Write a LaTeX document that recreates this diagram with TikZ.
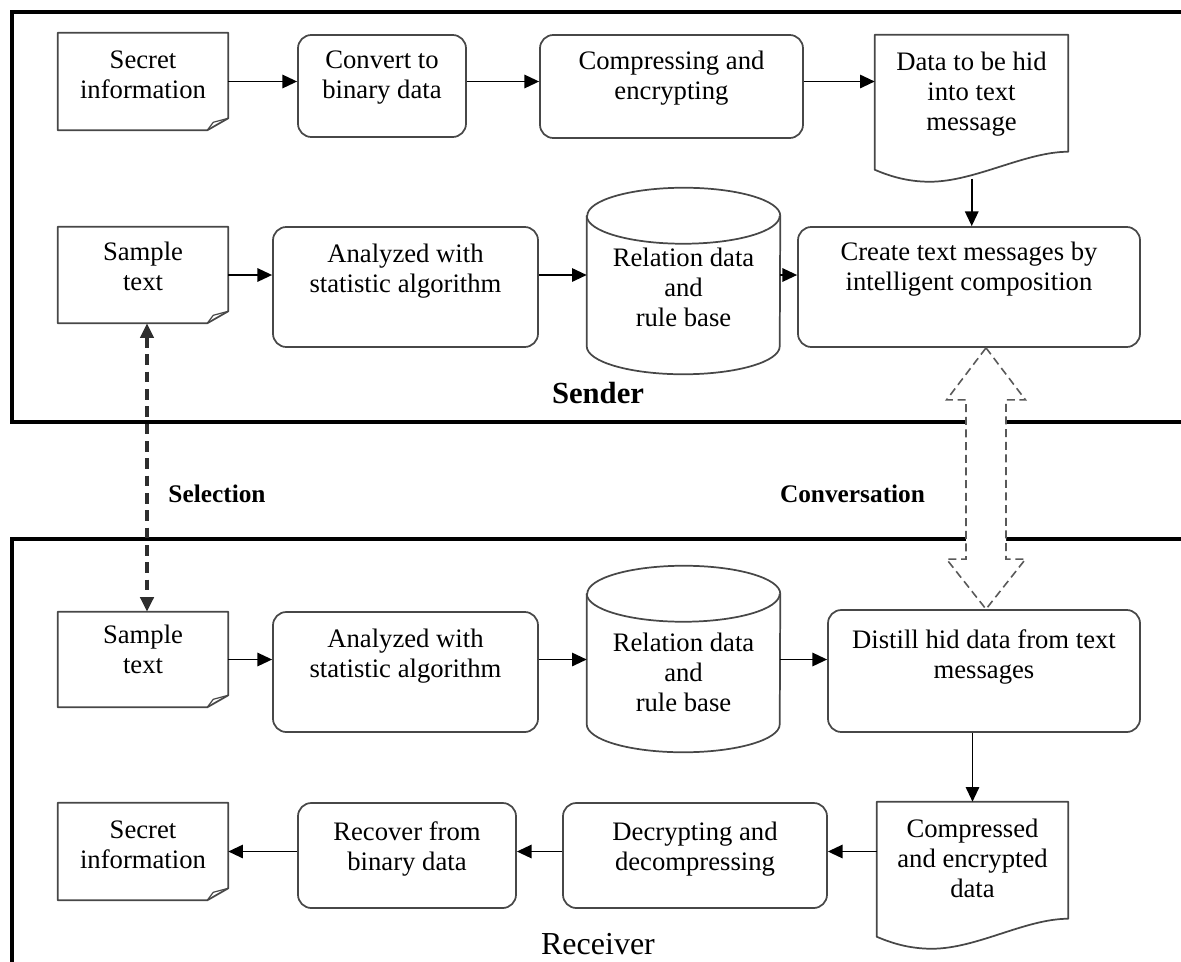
\documentclass[tikz,border=0pt]{standalone}
\usepackage{fontspec}
\setmainfont{Liberation Serif}
\usetikzlibrary{arrows.meta,calc}
\newcommand\boxtext[2]{\raisebox{\dimexpr#1pt-5pt\relax}[0pt][0pt]{\begin{tabular}{@{}c@{}}#2\end{tabular}}}
\tikzset{
  boxline/.style={draw=black!72, line width=1.3pt, line join=round},
  rbox/.style={boxline, rounded corners=10pt},
  plainbox/.style={draw=none},
  arr/.style={draw=black, line width=1.4pt, -{Triangle[length=11pt,width=10pt]}},
  selarr/.style={draw=black!82, line width=2.6pt, dash pattern=on 8pt off 5pt,
     {Triangle[length=11pt,width=10pt]}-{Triangle[length=11pt,width=10pt]}},
  hollow/.style={draw=black!65, line width=1.2pt, dash pattern=on 6pt off 3.5pt, fill=white},
  frame/.style={draw=black, line width=3pt},
  lbl/.style={font=\fontsize{19}{22}\selectfont\bfseries, anchor=base},
}
\begin{document}
\begin{tikzpicture}[x=0.75pt,y=-0.75pt,
  every node/.style={inner sep=0pt, font=\fontsize{20}{22.5}\selectfont}]
\useasboundingbox (0,0) rectangle (1181,961);
% frames
\draw[frame] (1195,12) -- (12,12) -- (12,422) -- (1195,422);
\draw[frame] (1195,539) -- (12,539) -- (12,975);

% sender nodes
\node[plainbox, minimum width=127.5pt, minimum height=72.75pt] (s1) at (143,81.5) {\boxtext{3}{Secret\\information}};
\node[rbox, minimum width=126pt, minimum height=76.5pt] (s2) at (382,86) {\boxtext{6}{Convert to\\binary data}};
\node[rbox, minimum width=197.25pt, minimum height=77.25pt] (s3) at (671.5,86.5) {\boxtext{6}{Compressing and\\encrypting}};
\node[plainbox, minimum width=144.75pt, minimum height=90pt] (s4) at (971.5,95) {\boxtext{0}{Data to be hid\\into text\\message}};
\node[plainbox, minimum width=127.5pt, minimum height=72pt] (s5) at (143,275) {\boxtext{3.75}{Sample\\text}};
\node[rbox, minimum width=198.75pt, minimum height=90pt] (s6) at (405.5,287) {\boxtext{11.25}{Analyzed with\\statistic algorithm}};
\node[plainbox, minimum width=144.75pt, minimum height=121.5pt] (s7) at (683.5,293) {\boxtext{1.5}{Relation data\\and\\rule base}};
\node[rbox, minimum width=256.5pt, minimum height=90pt] (s8) at (969,287) {\boxtext{12.75}{Create text messages by\\intelligent composition}};

% receiver nodes
\node[plainbox, minimum width=127.5pt, minimum height=71.25pt] (r1) at (143,659.5) {\boxtext{5.25}{Sample\\text}};
\node[rbox, minimum width=198.75pt, minimum height=90pt] (r2) at (405.5,672) {\boxtext{11.25}{Analyzed with\\statistic algorithm}};
\node[plainbox, minimum width=144.75pt, minimum height=121.5pt] (r3) at (683.5,671) {\boxtext{-3.75}{Relation data\\and\\rule base}};
\node[rbox, minimum width=234pt, minimum height=91.5pt] (r4) at (984,671) {\boxtext{9.75}{Distill hid data from text\\messages}};
\node[plainbox, minimum width=143.25pt, minimum height=90pt] (r5) at (972.5,862) {\boxtext{0}{Compressed\\and encrypted\\data}};
\node[rbox, minimum width=198pt, minimum height=78.75pt] (r6) at (695,855.5) {\boxtext{4.5}{Decrypting and\\decompressing}};
\node[rbox, minimum width=163.5pt, minimum height=78.75pt] (r7) at (407,855.5) {\boxtext{4.5}{Recover from\\binary data}};
\node[plainbox, minimum width=127.5pt, minimum height=72.75pt] (r8) at (143,851.5) {\boxtext{3}{Secret\\information}};

% note shapes
\foreach \n in {s1,s5,r1,r8}{
  \draw[boxline] (\n.north west) -- (\n.north east) -- ($(\n.south east)+(0,-12)$) -- ($(\n.south east)+(-21,0)$) -- (\n.south west) -- cycle;
  \draw[boxline, line width=0.9pt] ($(\n.south east)+(-21,0)$) -- ($(\n.south east)+(-15,-8)$) -- ($(\n.south east)+(0,-12)$);
}
% document shapes
\foreach \n in {s4,r5}{
  \draw[boxline] (\n.north west) -- (\n.north east) -- ($(\n.north east)+(0,117)$)
    .. controls ($(\n.north east)+(-43,117)$) and ($(\n.north west)+(100,147)$) .. ($(\n.north west)+(55,147)$)
    .. controls ($(\n.north west)+(32,147)$) and ($(\n.north west)+(14,141)$) .. ($(\n.north west)+(0,135)$) -- cycle;
}
% cylinders
\foreach \n in {s7,r3}{
  \draw[boxline] ($(\n.north west)+(0,4)$) -- ($(\n.south west)+(0,-28)$)
    arc[start angle=180,end angle=360,x radius=72.375pt,y radius=21pt]
    -- ($(\n.north east)+(0,4)$)
    arc[start angle=0,end angle=180,x radius=72.375pt,y radius=21pt] -- cycle;
  \draw[boxline] ($(\n.north west)+(0,4)$) arc[start angle=180,end angle=360,x radius=72.375pt,y radius=21pt];
}

% sender connectors
\draw[arr] (s1.east) -- (s2.west |- s1.east);
\draw[arr] (s2.east |- s1.east) -- (s3.west |- s1.east);
\draw[arr] (s3.east |- s1.east) -- (s4.west |- s1.east);
\coordinate (s4b) at ($(s4.north west)+(97,144)$);
\draw[arr] (s4b) -- (s4b |- s8.north);
\draw[arr] (s5.east) -- (s6.west |- s5.east);
\draw[arr] (s6.east |- s5.east) -- (s7.west |- s5.east);
\draw[arr] (s7.east |- s5.east) -- (s8.west |- s5.east);

% receiver connectors
\draw[arr] (r1.east) -- (r2.west |- r1.east);
\draw[arr] (r2.east |- r1.east) -- (r3.west |- r1.east);
\draw[arr] (r3.east |- r1.east) -- (r4.west |- r1.east);
\draw[arr] (r5.north |- r4.south) -- (r5.north);
\draw[arr] (r5.west |- r8.east) -- (r6.east |- r8.east);
\draw[arr] (r6.west |- r8.east) -- (r7.east |- r8.east);
\draw[arr] (r7.west |- r8.east) -- (r8.east);

% selection
\draw[selarr] ($(s5.south)+(4,0)$) -- ($(r1.north)+(4,0)$);

% conversation hollow double arrow
\coordinate (ct) at ($(s8.south)+(17,0)$);
\coordinate (cb) at (ct |- r4.north);
\draw[hollow] let \p1=(ct), \p2=(cb) in
  (\p1) -- (\x1+29.6pt,\y1-39pt) -- (\x1+15pt,\y1-39pt) -- (\x1+15pt,\y2+37.5pt)
  -- (\x1+29.6pt,\y2+37.5pt) -- (\p2) -- (\x1-29.6pt,\y2+37.5pt) -- (\x1-15pt,\y2+37.5pt)
  -- (\x1-15pt,\y1-39pt) -- (\x1-29.6pt,\y1-39pt) -- cycle;

% labels
\node[lbl, font=\fontsize{23}{26}\selectfont\bfseries] (sender) at (598,403) {Sender};
\node[anchor=base, font=\fontsize{24}{28}\selectfont] (receiver) at (598,954) {Receiver};
\node[lbl] (selection) at (217,502) {Selection};
\node[lbl] (conversation) at (852.5,502) {Conversation};
\end{tikzpicture}
\end{document}
